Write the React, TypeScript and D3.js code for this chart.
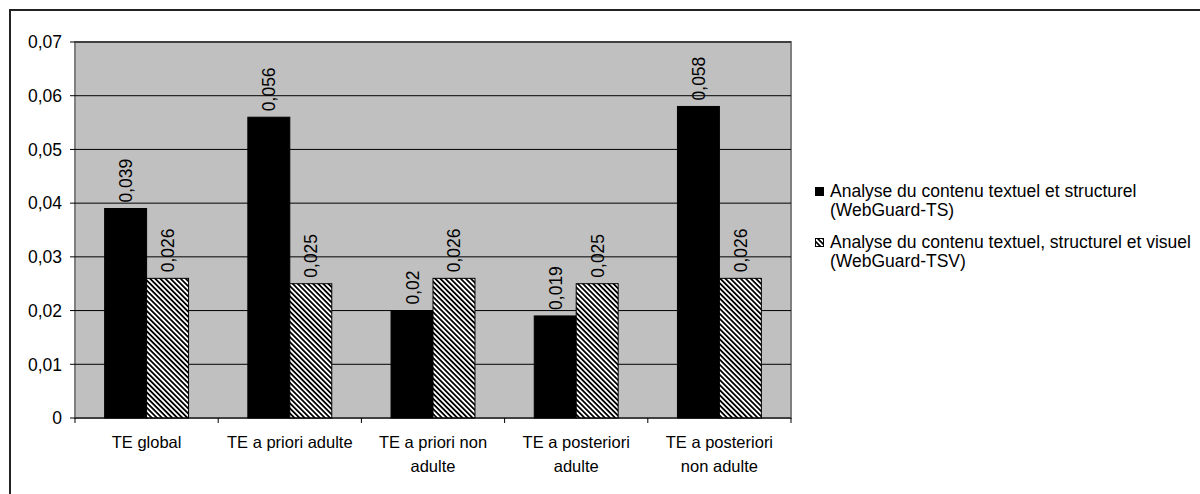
import React from "react";
import * as d3 from "d3";

const categories: string[][] = [
  ["TE global"],
  ["TE a priori adulte"],
  ["TE a priori non", "adulte"],
  ["TE a posteriori", "adulte"],
  ["TE a posteriori", "non adulte"],
];
const seriesNames: string[][] = [
  ["Analyse du contenu textuel et structurel", "(WebGuard-TS)"],
  ["Analyse du contenu textuel, structurel et visuel", "(WebGuard-TSV)"],
];
const tsValues = [0.039, 0.056, 0.02, 0.019, 0.058];
const tsvValues = [0.026, 0.025, 0.026, 0.025, 0.026];
const yTicks = [0, 0.01, 0.02, 0.03, 0.04, 0.05, 0.06, 0.07];

const W = 1200;
const H = 494;
const plot = { left: 75, right: 791, top: 42, bottom: 418 };
const FONT = "'Liberation Sans', Arial, sans-serif";

const fmt = (v: number) => String(v).replace(".", ",");

export default function App() {
  const x0 = d3
    .scaleBand<number>()
    .domain(categories.map((_, i) => i))
    .range([plot.left, plot.right])
    .padding(0);
  const bw = x0.bandwidth();
  const x1 = d3
    .scaleBand<number>()
    .domain([0, 1])
    .range([bw * 0.207, bw * 0.793])
    .padding(0);
  const y = d3.scaleLinear().domain([0, 0.07]).range([plot.bottom, plot.top]);
  const series = [tsValues, tsvValues];

  return (
    <svg
      width={W}
      height={H}
      style={{ position: "absolute", left: 0, top: 0, display: "block" }}
      fontFamily={FONT}
    >
      <defs>
        <pattern
          id="hatch"
          patternUnits="userSpaceOnUse"
          width={3.6}
          height={3.6}
          patternTransform="rotate(45)"
        >
          <rect x={0} y={0} width={3.6} height={3.6} fill="#fff" />
          <rect x={0} y={0} width={3.6} height={1.8} fill="#000" />
        </pattern>
      </defs>
      <rect x={0} y={0} width={W} height={H} fill="#fff" />
      <rect x={10} y={10} width={W} height={H} fill="none" stroke="#222" strokeWidth={2} />

      {/* plot area */}
      <rect
        x={plot.left}
        y={plot.top}
        width={plot.right - plot.left}
        height={plot.bottom - plot.top}
        fill="#c0c0c0"
        stroke="#808080"
        strokeWidth={2}
      />
      {yTicks.map((t) => (
        <g key={t}>
          {t > 0 && (
            <line x1={plot.left} x2={plot.right} y1={y(t)} y2={y(t)} stroke="#000" strokeWidth={1} />
          )}
          <line x1={plot.left - 5} x2={plot.left} y1={y(t)} y2={y(t)} stroke="#000" />
          <text x={62} y={y(t)} dy="0.36em" textAnchor="end" fontSize={17.5} fill="#000">
            {fmt(t)}
          </text>
        </g>
      ))}

      {/* bars */}
      {categories.map((_, i) =>
        series.map((vals, s) => {
          const bx = (x0(i) as number) + (x1(s) as number);
          const w = x1.bandwidth();
          const v = vals[i];
          const cx = bx + w / 2;
          const top = y(v);
          return (
            <g key={`${i}-${s}`}>
              <rect
                x={bx}
                y={top}
                width={w}
                height={y(0) - top}
                fill={s === 0 ? "#000" : "url(#hatch)"}
                stroke="#000"
                strokeWidth={1}
              />
              <text
                transform={`translate(${cx + 6.5},${top - 6}) rotate(-90)`}
                fontSize={17.5}
                fill="#000"
              >
                {fmt(v)}
              </text>
            </g>
          );
        })
      )}

      {/* x axis */}
      <line x1={plot.left} x2={plot.right} y1={plot.bottom} y2={plot.bottom} stroke="#000" />
      {d3.range(categories.length + 1).map((k) => {
        const xx = plot.left + k * bw;
        return <line key={k} x1={xx} x2={xx} y1={plot.bottom} y2={plot.bottom + 5} stroke="#000" />;
      })}
      {categories.map((lines, i) => (
        <text
          key={i}
          x={(x0(i) as number) + bw / 2}
          y={448}
          textAnchor="middle"
          fontSize={16.5}
          fill="#000"
        >
          {lines.map((ln, j) => (
            <tspan key={j} x={(x0(i) as number) + bw / 2} dy={j === 0 ? 0 : 24}>
              {ln}
            </tspan>
          ))}
        </text>
      ))}

      {/* legend */}
      {seriesNames.map((lines, s) => {
        const by = 197 + s * 51;
        return (
          <g key={s}>
            <rect
              x={815.5}
              y={by - 9.5}
              width={8}
              height={8}
              fill={s === 0 ? "#000" : "url(#hatch)"}
              stroke="#000"
              strokeWidth={1}
            />
            <text x={830} y={by} fontSize={17.5} fill="#000">
              {lines.map((ln, j) => (
                <tspan key={j} x={830} dy={j === 0 ? 0 : 19}>
                  {ln}
                </tspan>
              ))}
            </text>
          </g>
        );
      })}
    </svg>
  );
}
